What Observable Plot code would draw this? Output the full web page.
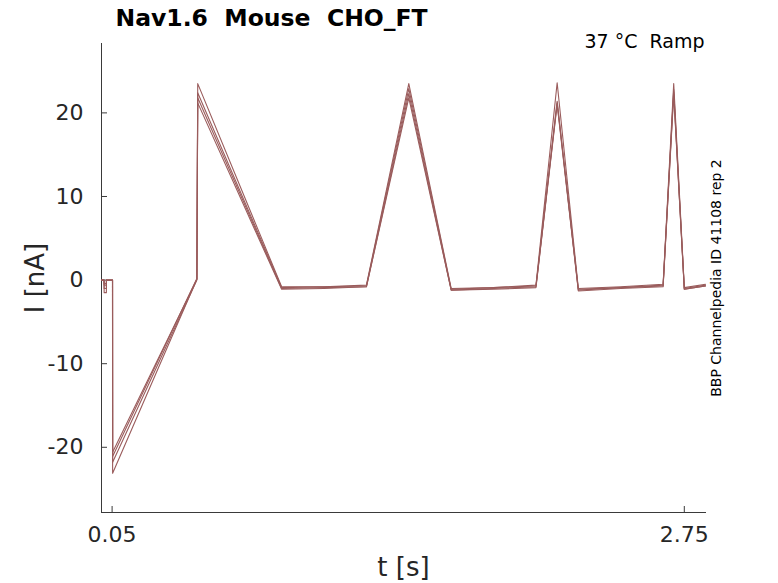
<!DOCTYPE html>
<html>
<head>
<meta charset="utf-8">
<script src="https://cdn.jsdelivr.net/npm/d3@7"></script>
<script src="https://cdn.jsdelivr.net/npm/@observablehq/plot@0.6"></script>
<style>
  body { margin: 0; background: #fff; }
  svg { white-space: pre; }
</style>
</head>
<body>
<div id="chart"></div>
<script>
// sample times (s)
const times = [0, 0.012, 0.0125, 0.023, 0.0235, 0.052, 0.0525, 0.45, 0.454, 0.85, 1.05, 1.25, 1.45, 1.65, 1.85, 2.05, 2.15, 2.25, 2.45, 2.65, 2.70, 2.75, 2.85];
// current traces (nA), one per sweep
const sweep1 = [0, 0, -1.5, -1.5, 0, 0, -20.6, 0.1, 23.5, -0.8, -0.8, -0.6, 23.5, -1.0, -0.9, -0.6, 23.6, -1.0, -0.8, -0.5, 23.5, -0.9, -0.5];
const sweep2 = [0, 0, -0.6, -0.6, 0, 0, -21.1, 0.2, 22.4, -0.9, -0.8, -0.7, 22.9, -1.1, -0.9, -0.7, 21.4, -1.2, -0.9, -0.7, 22.8, -1.0, -0.6];
const sweep3 = [0, 0, -1.0, -1.0, 0, 0, -21.8, 0.0, 21.8, -1.0, -0.9, -0.8, 22.3, -1.2, -1.0, -0.8, 21.2, -1.1, -0.9, -0.6, 22.5, -1.1, -0.7];
const sweep4 = [0, 0, -0.4, -0.4, 0, 0, -23.1, 0.1, 21.2, -1.1, -1.0, -0.8, 21.8, -1.2, -1.1, -0.9, 21.0, -1.3, -1.0, -0.8, 22.2, -1.1, -0.7];
const sweeps = [sweep1, sweep2, sweep3, sweep4];

const xTicks = [0.05, 2.75];
const xTickLabels = ["0.05", "2.75"];
const yTicks = [-20, -10, 0, 10, 20];

const titleText = "Nav1.6  Mouse  CHO_FT";
const subText = "37 °C  Ramp";
const sideText = "BBP Channelpedia ID 41108 rep 2";
const xLabel = "t [s]";
const yLabel = "I [nA]";

const data = sweeps.flatMap((s, k) => s.map((v, i) => ({t: times[i], I: v, sweep: k})));

const W = 778, H = 583;
const mL = 101, mR = 73, mT = 43, mB = 71;
const innerW = W - mL - mR, innerH = H - mT - mB;
const tickLen = 6;
const axisColor = "#3a3a3a";
const textColor = "#262626";

const chart = Plot.plot({
  width: W,
  height: H,
  marginLeft: mL,
  marginRight: mR,
  marginTop: mT,
  marginBottom: mB,
  style: {fontFamily: "DejaVu Sans", background: "#fff", overflow: "visible"},
  x: {domain: [0, 2.85], axis: null},
  y: {domain: [-27.8, 28.3], axis: null},
  marks: [
    Plot.frame({anchor: "left", stroke: axisColor}),
    Plot.frame({anchor: "bottom", stroke: axisColor}),
    Plot.tickY(yTicks, {y: d => d, insetRight: innerW - tickLen, stroke: axisColor}),
    Plot.tickX(xTicks, {x: d => d, insetTop: innerH - tickLen, stroke: axisColor}),
    Plot.line(data, {x: "t", y: "I", z: "sweep", stroke: "#9a5c5c", strokeWidth: 1.1, curve: "linear"}),
    Plot.text(yTicks, {y: d => d, text: d => String(d), frameAnchor: "left", textAnchor: "end", lineAnchor: "middle", dx: -18, fontSize: 22, fill: textColor}),
    Plot.text(xTicks, {x: d => d, text: (d, i) => xTickLabels[i], frameAnchor: "bottom", textAnchor: "middle", lineAnchor: "middle", dy: 22, fontSize: 22, fill: textColor}),
    Plot.text([xLabel], {frameAnchor: "bottom", textAnchor: "middle", lineAnchor: "middle", dy: 55, fontSize: 26, fill: textColor}),
    Plot.text([yLabel], {frameAnchor: "left", textAnchor: "middle", rotate: -90, lineAnchor: "middle", dx: -66, fontSize: 26, fill: textColor}),
    Plot.text([titleText], {frameAnchor: "top-left", textAnchor: "start", lineAnchor: "middle", dx: 14, dy: -25, fontSize: 23.5, fontWeight: "bold", fill: "#000"}),
    Plot.text([subText], {frameAnchor: "top-right", textAnchor: "end", lineAnchor: "middle", dx: -1, dy: -2, fontSize: 19, fill: "#000"}),
    Plot.text([sideText], {frameAnchor: "right", textAnchor: "middle", rotate: -90, lineAnchor: "middle", dx: 11, fontSize: 14, fill: "#000"})
  ]
});
document.getElementById("chart").appendChild(chart);
</script>
</body>
</html>
